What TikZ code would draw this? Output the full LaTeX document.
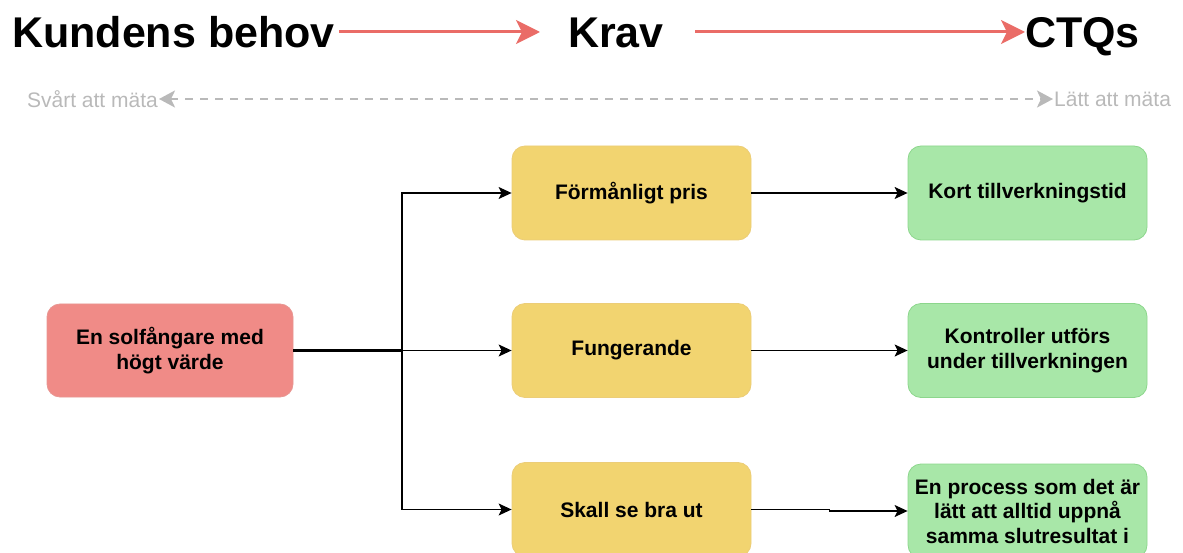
\documentclass[tikz,border=0pt]{standalone}
\usepackage{fontspec}
\setmainfont{Liberation Sans}
\usetikzlibrary{arrows.meta}
\definecolor{redfill}{RGB}{240,139,135}
\definecolor{reddraw}{RGB}{232,150,146}
\definecolor{yelfill}{RGB}{242,212,112}
\definecolor{yeldraw}{RGB}{236,205,120}
\definecolor{grnfill}{RGB}{168,231,168}
\definecolor{grndraw}{RGB}{140,214,140}
\definecolor{arrred}{RGB}{234,108,103}
\definecolor{lgray}{RGB}{185,185,185}
\tikzset{
  x=1pt, y=-1pt,
  title/.style={font=\bfseries\fontsize{43}{48}\selectfont, inner sep=0pt, text height=31pt, text depth=0pt, anchor=west},
  meas/.style={font=\fontsize{21}{24}\selectfont, text=lgray, inner sep=1pt},
  box/.style={rounded corners=13pt, minimum width=239pt, minimum height=94pt, align=center, line width=0.8pt,
    font=\bfseries\fontsize{21}{24.5}\selectfont, inner sep=2pt},
  redbox/.style={box, fill=redfill, draw=reddraw, minimum width=246pt, minimum height=93pt},
  yelbox/.style={box, fill=yelfill, draw=yeldraw},
  grnbox/.style={box, fill=grnfill, draw=grndraw},
  conn/.style={draw=black, line width=1.3pt, -{Stealth[length=13pt,width=12pt,inset=3pt]}},
  trunk/.style={draw=black, line width=2.2pt},
  bigarr/.style={draw=arrred, line width=3pt, -{Stealth[length=24pt,width=24pt,inset=6pt]}},
  dasharr/.style={draw=lgray, line width=2.2pt, dash pattern=on 8pt off 7pt,
    {Stealth[length=16pt,width=17pt,inset=4pt]}-{Stealth[length=16pt,width=17pt,inset=4pt]}},
}
\begin{document}
\begin{tikzpicture}
\useasboundingbox (0,0) rectangle (1183,553);
\begin{scope}
\clip (0,0) rectangle (1183,553);
% titles
\node[title] (kb) at (12,32) {Kundens behov};
\node[title] (krav) at (568,32) {Krav};
\node[title] (ctq) at (1025,32) {CTQs};
\draw[bigarr] ([xshift=4pt]kb.east) -- ([xshift=-28pt]krav.west);
\draw[bigarr] ([xshift=31pt]krav.east) -- (ctq.west);
% measurability axis
\node[meas, anchor=east] (svart) at (159,99) {Svårt att mäta};
\node[meas, anchor=west] (latt) at (1053,99) {Lätt att mäta};
\draw[dasharr] (svart.east) -- (latt.west);
% boxes
\node[redbox] (R) at (170,350.5) {En solfångare med\\högt värde};
\node[yelbox] (Y1) at (631.5,193) {Förmånligt pris};
\node[yelbox] (Y2) at (631.5,350.5) {Fungerande};
\node[yelbox] (Y3) at (631.5,509.5) {Skall se bra ut};
\node[grnbox] (G1) at (1027.5,193) {Kort tillverkningstid};
\node[grnbox] (G2) at (1027.5,350.5) {Kontroller utförs\\under tillverkningen};
\node[grnbox] (G3) at (1027.5,511) {En process som det är\\lätt att alltid uppnå\\samma slutresultat i};
% connectors
\coordinate (J) at (402,350.5);
\draw[trunk] (R.east) -- (J);
\draw[conn] (R.east) -- (J) |- (Y1.west);
\draw[conn] (R.east) -- (Y2.west);
\draw[conn] (R.east) -- (J) |- (Y3.west);
\draw[conn] (Y1.east) -- (G1.west);
\draw[conn] (Y2.east) -- (G2.west);
\draw[conn] (Y3.east) -- ++(78,0) -- ++(0,1.5) -- (G3.west);
\end{scope}
\end{tikzpicture}
\end{document}
